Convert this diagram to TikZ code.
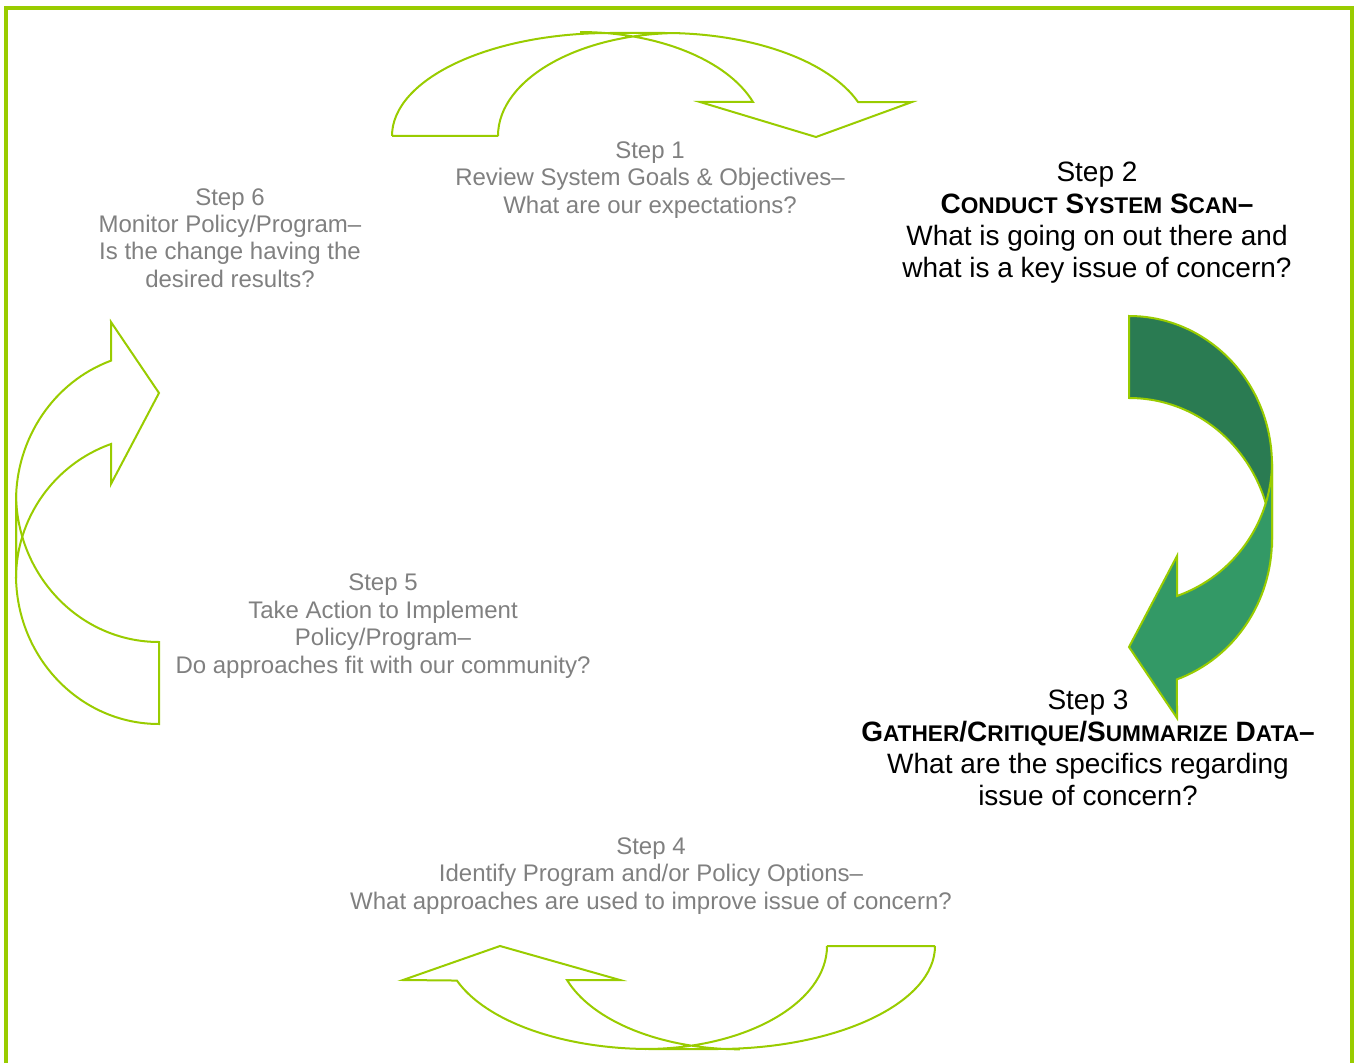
\documentclass[tikz,border=0pt]{standalone}
\usepackage{fontspec}
\setmainfont{Liberation Sans}
\definecolor{lime}{RGB}{153,204,0}
\definecolor{darkband}{RGB}{42,123,82}
\definecolor{lightband}{RGB}{51,153,102}
\definecolor{greytext}{RGB}{128,128,128}
% fake small caps: big first letter, rest smaller
\newcommand{\smcap}[2]{#1{\fontsize{17}{20}\selectfont #2}}
\tikzset{
    %Define style for the grey step captions
    steptext/.style={align=center, text=greytext, inner sep=0pt, font=\fontsize{18}{20.6}\selectfont},
    %Define style for the two active steps
    activetext/.style={align=center, text=black, inner sep=0pt, font=\fontsize{21}{24}\selectfont},
    %Define style for the curved arrow outlines
    band/.style={draw=lime, line width=1.5pt, line join=miter},
}

\begin{document}
\begin{tikzpicture}[x=0.75pt, y=-0.75pt]
    \useasboundingbox (0,0) rectangle (1354,1063);
    \draw[lime, line width=2.6pt] (6,1075) -- (6,8) -- (1352,8) -- (1352,1075);

    % top arrow, step 1 -> step 2
    \draw[band] (392,136) -- (498,136)
        (392,136) arc[start angle=180, end angle=270, x radius=218, y radius=103]
        -- (665,33) arc[start angle=270, end angle=340.4, x radius=205, y radius=104]
        -- (912,102) -- (816,137) -- (700,102) -- (753,102)
        arc[start angle=340.9, end angle=270, x radius=183, y radius=104]
        (498,136) arc[start angle=180, end angle=270, x radius=182, y radius=103];

    % right arrow, step 2 -> step 3
    \filldraw[band, fill=darkband] (1129,316)
        arc[start angle=270, end angle=360, x radius=143, y radius=149]
        -- (1272,547) arc[start angle=0, end angle=-90, x radius=143, y radius=149] -- cycle;
    \filldraw[band, fill=lightband] (1272,462) -- (1272,539)
        arc[start angle=0, end angle=70.4, x radius=143, y radius=149]
        -- (1177,718) -- (1129,647) -- (1177,556) -- (1177,596)
        arc[start angle=70.4, end angle=0, x radius=143, y radius=143] -- cycle;

    % bottom arrow, step 3 -> step 5
    \draw[band] (935,946) -- (827,946)
        (935,946) arc[start angle=0, end angle=90, x radius=218, y radius=103]
        -- (650,1049) arc[start angle=90, end angle=160.4, x radius=205, y radius=103]
        -- (403,980) -- (500,946) -- (620,980) -- (567,980)
        arc[start angle=160.9, end angle=90, x radius=183, y radius=103]
        (827,946) arc[start angle=0, end angle=90, x radius=182, y radius=103];

    % left arrow, step 5 -> step 6
    \begin{scope}[rotate around={180:(644,520)}]
        \draw[band] (1129,316)
            arc[start angle=270, end angle=360, x radius=143, y radius=149]
            -- (1272,547) arc[start angle=0, end angle=-90, x radius=143, y radius=149] -- cycle;
        \draw[band] (1272,462) -- (1272,539)
            arc[start angle=0, end angle=70.4, x radius=143, y radius=149]
            -- (1177,718) -- (1129,647) -- (1177,556) -- (1177,596)
            arc[start angle=70.4, end angle=0, x radius=143, y radius=143] -- cycle;
    \end{scope}

    \node[steptext] (step1) at (650,180) {Step 1\\Review System Goals \& Objectives--\\What are our expectations?};
    \node[activetext] (step2) at (1097,223) {Step 2\\\textbf{\smcap{C}{ONDUCT} \smcap{S}{YSTEM} \smcap{S}{CAN}--}\\What is going on out there and\\what is a key issue of concern?};
    \node[activetext] (step3) at (1088,748) {Step 3\\\textbf{\smcap{G}{ATHER}/\smcap{C}{RITIQUE}/\smcap{S}{UMMARIZE} \smcap{D}{ATA}--}\\What are the specifics regarding\\issue of concern?};
    \node[steptext] (step4) at (651,876) {Step 4\\Identify Program and/or Policy Options--\\What approaches are used to improve issue of concern?};
    \node[steptext] (step5) at (383,626) {Step 5\\Take Action to Implement\\Policy/Program--\\Do approaches fit with our community?};
    \node[steptext] (step6) at (230,238) {Step 6\\Monitor Policy/Program--\\Is the change having the\\desired results?};
\end{tikzpicture}
\end{document}
